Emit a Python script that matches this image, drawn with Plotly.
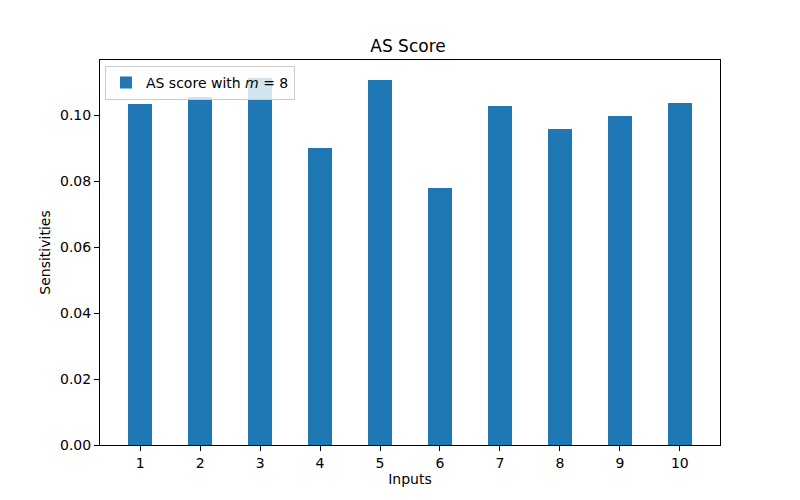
import plotly.graph_objects as go

inputs = [1, 2, 3, 4, 5, 6, 7, 8, 9, 10]
scores = [0.1033, 0.1055, 0.1113, 0.0900, 0.1106, 0.0779, 0.1027, 0.0958, 0.0997, 0.1036]
y_ticks = [0.00, 0.02, 0.04, 0.06, 0.08, 0.10]
y_tick_text = ["0.00", "0.02", "0.04", "0.06", "0.08", "0.10"]

fig = go.Figure()
fig.add_trace(go.Bar(
    x=inputs, y=scores, width=0.4,
    marker=dict(color="#1f77b4", line=dict(width=0)),
    name="AS score with <i>m</i> = 8",
))

font = "DejaVu Sans, sans-serif"
fig.update_layout(
    width=800, height=500,
    margin=dict(l=92, r=88, t=52, b=63),
    paper_bgcolor="white", plot_bgcolor="white",
    font=dict(family=font, size=14, color="black"),
    title=dict(text="AS Score", x=0.5, xanchor="center", y=1 - 38 / 500, yanchor="middle",
               font=dict(size=17, family=font)),
    showlegend=True,
    legend=dict(x=0.008, y=0.985, xanchor="left", yanchor="top",
                bgcolor="rgba(255,255,255,0.8)", bordercolor="#cccccc", borderwidth=1,
                font=dict(size=14, family=font)),
    bargap=0,
)
fig.update_xaxes(
    range=[0.33, 10.67], tickvals=inputs, ticktext=[str(v) for v in inputs],
    ticks="outside", ticklen=5, tickcolor="black", showgrid=False, zeroline=False,
    showline=True, linecolor="black", linewidth=1, mirror=True,
    title=dict(text="Inputs", font=dict(size=14), standoff=4),
)
fig.update_yaxes(
    range=[0, 0.11667], tickvals=y_ticks, ticktext=y_tick_text,
    ticks="outside", ticklen=5, tickcolor="black", showgrid=False, zeroline=False,
    showline=True, linecolor="black", linewidth=1, mirror=True,
    title=dict(text="Sensitivities", font=dict(size=14), standoff=6),
)

fig.write_html("out.html")
